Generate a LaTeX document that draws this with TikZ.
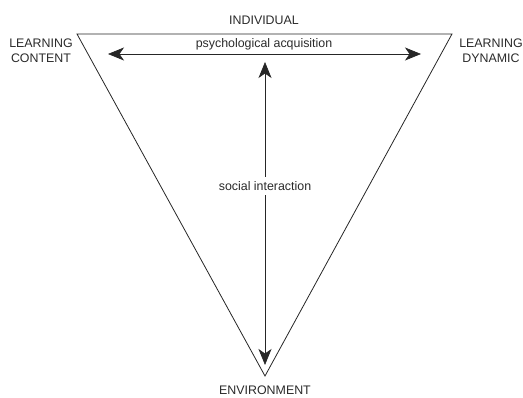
\documentclass[tikz,border=0pt]{standalone}
\usepackage{fontspec}
\setmainfont{Liberation Sans}
\usetikzlibrary{arrows.meta}
\definecolor{txt}{HTML}{2A2A2A}
\begin{document}
\begin{tikzpicture}[x=1pt,y=-1pt,
  edge/.style={draw=black!85,line width=0.8pt},
  dblarrow/.style={draw=black!85,line width=0.7pt,{Stealth[length=16pt,width=13pt,inset=4.5pt]}-{Stealth[length=16pt,width=13pt,inset=4.5pt]}},
  lbl/.style={text=txt,font=\fontsize{12.4}{15}\selectfont,inner sep=1pt,align=center}]
\useasboundingbox (0,0) rectangle (523,398);
\coordinate (tl) at (77,34);
\coordinate (tr) at (452,34);
\coordinate (bt) at (265,376);
\draw[edge,line join=miter] (tl) -- (tr) -- (bt) -- cycle;
\coordinate (al) at (108,54);
\coordinate (ar) at (421,54);
\coordinate (vt) at (265,62);
\coordinate (vb) at (265,365);
\draw[dblarrow] (al) -- (ar);
\draw[dblarrow] (vt) -- (vb);
\node[lbl,fill=white,inner sep=4pt] (soc) at (265,186) {social interaction};
\node[lbl] (psy) at (264,44) {psychological acquisition};
\node[lbl] (ind) at (264,20) {INDIVIDUAL};
\node[lbl] (env) at (265,390) {ENVIRONMENT};
\node[lbl] (lc) at (41,50.5) {LEARNING\\CONTENT};
\node[lbl] (ld) at (491,50.5) {LEARNING\\DYNAMIC};
\end{tikzpicture}
\end{document}
